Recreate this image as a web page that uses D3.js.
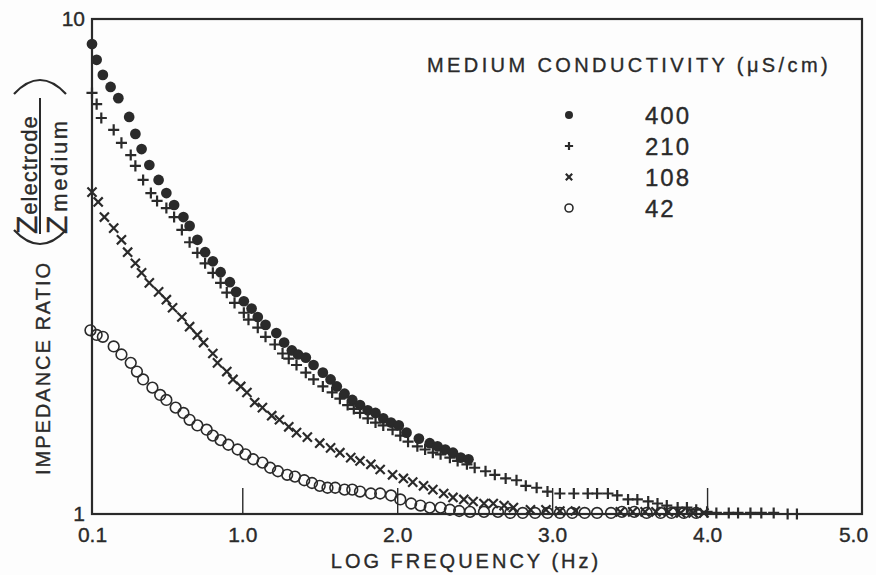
<!DOCTYPE html>
<html>
<head>
<meta charset="utf-8">
<script src="https://cdn.jsdelivr.net/npm/d3@7"></script>
<style>
    body { margin: 0; background: #fdfdfd; }
    text { font-family: "Liberation Sans", Arial, sans-serif; fill: #2a2a2a; stroke: #2a2a2a; stroke-width: 0.35px; }
</style>
</head>
<body>
<script>
// log frequency (Hz), impedance ratio
let s400 = [[0.03,8.90],[0.06,8.27],[0.10,7.71],[0.15,7.29],[0.20,6.92],[0.27,6.34],[0.31,5.86],[0.35,5.46],[0.40,5.07],[0.46,4.73],
    [0.51,4.45],[0.56,4.21],[0.62,3.98],[0.66,3.82],[0.71,3.58],[0.76,3.38],[0.81,3.24],[0.86,3.08],[0.92,2.94],[0.96,2.81],
    [1.01,2.69],[1.06,2.60],[1.10,2.50],[1.15,2.41],[1.22,2.32],[1.27,2.22],[1.32,2.14],[1.36,2.10],[1.41,2.07],[1.46,2.00],
    [1.52,1.93],[1.57,1.87],[1.61,1.81],[1.66,1.75],[1.71,1.70],[1.76,1.66],[1.81,1.62],[1.86,1.60],[1.91,1.56],[1.96,1.53],
    [2.01,1.51],[2.06,1.46],[2.14,1.42],[2.21,1.39],[2.26,1.37],[2.31,1.35],[2.36,1.33],[2.41,1.30],[2.46,1.29]]

let s210 = [[0.03,7.09],[0.06,6.73],[0.09,6.31],[0.17,5.97],[0.22,5.62],[0.28,5.31],[0.31,5.05],[0.36,4.73],[0.41,4.45],[0.45,4.29],
    [0.51,4.15],[0.56,3.98],[0.61,3.75],[0.66,3.54],[0.71,3.37],[0.76,3.21],[0.81,3.07],[0.86,2.93],[0.90,2.80],[0.95,2.67],
    [1.01,2.55],[1.04,2.47],[1.10,2.38],[1.15,2.28],[1.21,2.20],[1.26,2.11],[1.30,2.06],[1.35,2.00],[1.41,1.93],[1.46,1.87],
    [1.52,1.81],[1.58,1.76],[1.63,1.71],[1.68,1.66],[1.72,1.63],[1.76,1.60],[1.81,1.56],[1.86,1.53],[1.91,1.51],[1.97,1.48],
    [2.02,1.44],[2.07,1.40],[2.13,1.37],[2.18,1.35],[2.23,1.33],[2.28,1.32],[2.34,1.30],[2.39,1.28],[2.45,1.26],[2.50,1.24],
    [2.57,1.22],[2.63,1.20],[2.70,1.18],[2.77,1.17],[2.83,1.14],[2.90,1.13],[2.97,1.11],[3.05,1.10],[3.14,1.10],[3.23,1.10],
    [3.29,1.10],[3.36,1.10],[3.42,1.09],[3.49,1.07],[3.55,1.07],[3.62,1.06],[3.68,1.05],[3.74,1.04],[3.81,1.03],[3.87,1.03],
    [3.93,1.02],[4.00,1.01],[4.06,1.005],[4.14,1.005],[4.20,1.005],[4.28,1.005],[4.35,1.005],[4.43,1.005],[4.52,1.0],[4.58,1.0]]

let s108 = [[0.03,4.47],[0.07,4.27],[0.11,3.98],[0.17,3.78],[0.22,3.58],[0.26,3.38],[0.31,3.21],[0.35,3.07],[0.40,2.93],[0.46,2.81],
    [0.51,2.71],[0.55,2.61],[0.61,2.50],[0.66,2.39],[0.71,2.30],[0.75,2.22],[0.81,2.11],[0.84,2.02],[0.90,1.94],[0.94,1.87],
    [0.99,1.81],[1.03,1.76],[1.08,1.68],[1.13,1.64],[1.19,1.58],[1.24,1.55],[1.30,1.50],[1.35,1.46],[1.42,1.43],[1.50,1.39],
    [1.57,1.36],[1.63,1.33],[1.70,1.30],[1.76,1.28],[1.83,1.26],[1.89,1.23],[1.97,1.20],[2.04,1.18],[2.10,1.16],[2.17,1.14],
    [2.23,1.12],[2.30,1.10],[2.36,1.08],[2.43,1.07],[2.49,1.06],[2.56,1.05],[2.62,1.05],[2.69,1.04],[2.75,1.03],[2.86,1.02],
    [2.96,1.02],[3.05,1.014],[3.15,1.014],[3.44,1.01],[3.52,1.01],[3.60,1.01],[3.67,1.01],[3.75,1.01],[3.83,1.005],[3.91,1.005],
    [3.98,1.005]]

let s42 = [[0.02,2.35],[0.06,2.30],[0.10,2.28],[0.17,2.18],[0.22,2.10],[0.28,2.02],[0.32,1.94],[0.36,1.87],[0.42,1.80],[0.47,1.74],
    [0.51,1.70],[0.57,1.64],[0.62,1.60],[0.66,1.55],[0.71,1.51],[0.77,1.48],[0.81,1.44],[0.86,1.41],[0.91,1.38],[0.97,1.35],
    [1.02,1.32],[1.07,1.29],[1.13,1.27],[1.18,1.24],[1.23,1.22],[1.29,1.20],[1.34,1.19],[1.40,1.17],[1.45,1.155],[1.50,1.14],
    [1.55,1.13],[1.60,1.13],[1.66,1.12],[1.71,1.12],[1.76,1.11],[1.83,1.10],[1.89,1.10],[1.96,1.09],[2.02,1.07],[2.09,1.05],
    [2.15,1.04],[2.21,1.03],[2.28,1.03],[2.34,1.02],[2.40,1.014],[2.47,1.01],[2.56,1.01],[2.65,1.01],[2.73,1.005],[2.81,1.005],
    [2.89,1.005],[2.97,1.005],[3.05,1.005],[3.13,1.005],[3.21,1.005],[3.29,1.005],[3.38,1.005],[3.45,1.01],[3.53,1.01],[3.61,1.005],
    [3.70,1.005],[3.77,1.005],[3.85,1.005],[3.93,1.005]]

let seriesNames = ["400", "210", "108", "42"]
let xTicks = [0.03, 1, 2, 3, 4, 5]
let xTickLabels = ["0.1", "1.0", "2.0", "3.0", "4.0", "5.0"]
let yTicks = [1, 10]

draw()

function draw() {
    let w = 876, h = 575
    let m = {left: 92, right: 14, top: 19, bottom: 61}
    let ink = "#2a2a2a"

    let svg = d3.select("body").append("svg")
        .attr("width", w)
        .attr("height", h)

    let x = d3.scaleLinear().domain([0.03, 5]).range([m.left, w - m.right])
    let y = d3.scaleLog().domain([1, 10]).range([h - m.bottom, m.top])

    // frame
    svg.append("rect")
        .attr("x", x(0.03)).attr("y", y(10))
        .attr("width", x(5) - x(0.03)).attr("height", y(1) - y(10))
        .attr("fill", "none").attr("stroke", ink).attr("stroke-width", 2.2)

    let xAxis = svg.append("g")
        .attr("transform", `translate(0,${y(1)})`)
        .call(d3.axisBottom(x).tickValues(xTicks).tickSize(-26).tickPadding(13)
            .tickFormat((d, i) => xTickLabels[i]))
    xAxis.select(".domain").remove()
    xAxis.selectAll(".tick line")
        .attr("stroke", ink).attr("stroke-width", 1.4)
        .attr("display", d => (d === 0.03 || d === 5) ? "none" : null)
    xAxis.selectAll(".tick text")
        .style("font-size", "21px").attr("fill", ink)
        .attr("dx", d => d === 5 ? -9 : 0)

    let yAxis = svg.append("g")
        .attr("transform", `translate(${x(0.03)},0)`)
        .call(d3.axisLeft(y).tickValues(yTicks).tickSize(0).tickPadding(7).tickFormat(d3.format("d")))
    yAxis.select(".domain").remove()
    yAxis.selectAll(".tick text")
        .style("font-size", "21px").attr("fill", ink)

    svg.append("text")
        .attr("x", 466).attr("y", 568)
        .attr("text-anchor", "middle")
        .style("font-size", "20px").style("letter-spacing", "3px")
        .text("LOG FREQUENCY (Hz)")

    // y title, rotated
    let yt = svg.append("g").attr("transform", "rotate(-90)")
    yt.append("text")
        .attr("x", -368).attr("y", 50)
        .attr("text-anchor", "middle")
        .style("font-size", "20px").style("letter-spacing", "2px")
        .text("IMPEDANCE RATIO")
    let num = yt.append("text").attr("x", -234).attr("y", 37)
    num.append("tspan").style("font-size", "30px").text("Z")
    num.append("tspan").style("font-size", "22px").style("letter-spacing", "1px").attr("dx", 1).text("electrode")
    let den = yt.append("text").attr("x", -234).attr("y", 67)
    den.append("tspan").style("font-size", "30px").text("Z")
    den.append("tspan").style("font-size", "22px").style("letter-spacing", "2.5px").attr("dx", 4).text("medium")
    svg.append("line")
        .attr("x1", 40).attr("x2", 40).attr("y1", 98).attr("y2", 234)
        .attr("stroke", ink).attr("stroke-width", 2)
    svg.append("path").attr("d", "M14,94 Q40,66 66,94")
        .attr("fill", "none").attr("stroke", ink).attr("stroke-width", 2.2)
    svg.append("path").attr("d", "M14,230 Q40,258 66,230")
        .attr("fill", "none").attr("stroke", ink).attr("stroke-width", 2.2)

    let marks = [
        {data: s400, type: d3.symbolCircle, size: 90, fill: ink, stroke: "none", sw: 0, lsize: 50},
        {data: s210, type: d3.symbolPlus, size: 42, fill: "none", stroke: ink, sw: 2.2, lsize: 24},
        {data: s108, type: d3.symbolTimes, size: 56, fill: "none", stroke: ink, sw: 2.2, lsize: 28},
        {data: s42, type: d3.symbolCircle, size: 90, fill: "none", stroke: ink, sw: 1.6, lsize: 50}
    ]

    marks.forEach(s => {
        svg.append("g").selectAll("path")
            .data(s.data)
            .enter()
            .append("path")
                .attr("transform", d => `translate(${x(d[0])},${y(d[1])})`)
                .attr("d", d3.symbol().type(s.type).size(s.size))
                .attr("fill", s.fill)
                .attr("stroke", s.stroke)
                .attr("stroke-width", s.sw)
    })

    // legend
    svg.append("text")
        .attr("x", 427).attr("y", 72)
        .style("font-size", "20px").style("letter-spacing", "3.4px")
        .text("MEDIUM CONDUCTIVITY (\u03bcS/cm)")
    let lg = svg.append("g").selectAll("g")
        .data(seriesNames)
        .enter()
        .append("g")
            .attr("transform", (d, i) => `translate(0,${115 + i * 31})`)
    lg.append("path")
        .attr("transform", "translate(569,0)")
        .attr("d", (d, i) => d3.symbol().type(marks[i].type).size(marks[i].lsize)())
        .attr("fill", (d, i) => marks[i].fill)
        .attr("stroke", (d, i) => marks[i].stroke)
        .attr("stroke-width", (d, i) => marks[i].sw)
    lg.append("text")
        .attr("x", 645).attr("y", 8.5)
        .style("font-size", "24px").style("letter-spacing", "2px")
        .text(d => d)
}
</script>
</body>
</html>
